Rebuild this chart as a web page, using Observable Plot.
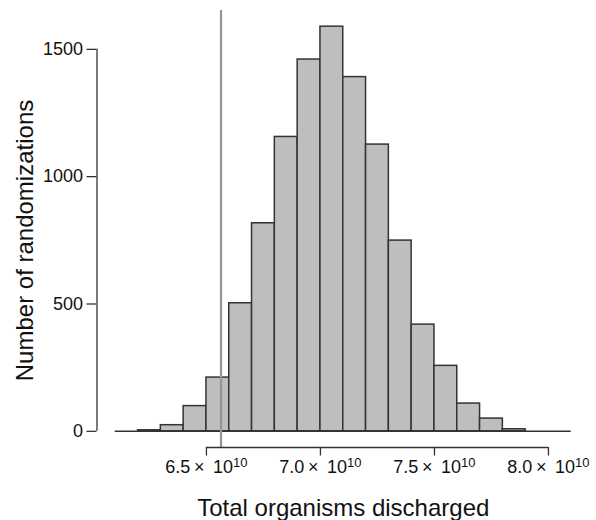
<!DOCTYPE html>
<html><head><meta charset="utf-8">
<script src="https://cdn.jsdelivr.net/npm/d3@7"></script>
<script src="https://cdn.jsdelivr.net/npm/@observablehq/plot@0.6"></script>
<style>
body{margin:0;background:#fff}
#chart svg{font-family:"Liberation Sans",Arial,Helvetica,sans-serif;overflow:visible}
</style>
</head><body><div id="chart"></div>
<script>
// Histogram breaks (in units of 10^10 organisms) and counts per bin
const breaks = [6.1, 6.2, 6.3, 6.4, 6.5, 6.6, 6.7, 6.8, 6.9, 7.0, 7.1, 7.2, 7.3, 7.4, 7.5, 7.6, 7.7, 7.8, 7.9, 8.0, 8.1];
const counts = [0, 4, 24, 99, 211, 503, 817, 1156, 1460, 1589, 1391, 1126, 749, 419, 257, 109, 50, 8, 0, 0];
const observedTotal = 6.564;           // observed value (× 10^10)
const xTicks = [6.5, 7.0, 7.5, 8.0];
const yTicks = [0, 500, 1000, 1500];
const xTitle = "Total organisms discharged";
const yTitle = "Number of randomizations";

const bins = counts.map((c, i) => ({x1: breaks[i], x2: breaks[i + 1], count: c}));

// R-style 4% expansion of ranges
const xr = [breaks[0], breaks[breaks.length - 1]];
const xPad = (xr[1] - xr[0]) * 0.04;
const xDomain = [xr[0] - xPad, xr[1] + xPad];
const yMax = d3.max(counts);
const yDomain = [-yMax * 0.04, yMax * 1.04];

const ink = "#333333";

const chart = Plot.plot({
  width: 596,
  height: 520,
  marginLeft: 96.5,
  marginRight: 7,
  marginTop: 10,
  marginBottom: 73,
  style: {fontFamily: "Liberation Sans, Arial, sans-serif", fontSize: "18px", color: "#111"},
  x: {domain: xDomain},
  y: {domain: yDomain},
  marks: [
    Plot.rect(bins, {x1: "x1", x2: "x2", y1: 0, y2: "count", fill: "#bebebe", stroke: ink, strokeWidth: 1.5, inset: 0}),
    Plot.ruleY([0], {x1: xr[0], x2: xr[1], stroke: ink, strokeWidth: 1.5}),
    Plot.ruleX([observedTotal], {y1: yDomain[0], y2: yDomain[1], stroke: "#959595", strokeWidth: 2.2}),
    // y axis line spanning tick range
    Plot.ruleX([xDomain[0]], {y1: yTicks[0], y2: yTicks[yTicks.length - 1], stroke: ink, strokeWidth: 1.3}),
    Plot.axisY({ticks: yTicks, tickSize: 10, tickPadding: 4, fontSize: 18, stroke: ink, strokeWidth: 1.3, label: null, tickFormat: d => String(d)}),
    // x axis line spanning tick range
    Plot.ruleY([yDomain[0]], {x1: xTicks[0], x2: xTicks[xTicks.length - 1], stroke: ink, strokeWidth: 1.3}),
    Plot.axisX({ticks: xTicks, tickSize: 8.5, tickPadding: 4, fontSize: 18, stroke: ink, strokeWidth: 1.3, label: null,
      tickFormat: d => d.toFixed(1) + "\u2009\u00D7\u2009 10"}),
    Plot.text([xTitle], {frameAnchor: "bottom", dy: 68, fontSize: 24, fill: "#111"}),
    Plot.text([yTitle], {frameAnchor: "left", textAnchor: "middle", rotate: -90, dx: -72, dy: 11.5, fontSize: 24, fill: "#111"})
  ]
});

// Add superscript exponents to x tick labels
chart.querySelectorAll("text").forEach(t => {
  if (/\u00D7\u2009 10$/.test(t.textContent)) {
    const sp = document.createElementNS("http://www.w3.org/2000/svg", "tspan");
    sp.setAttribute("dy", "-0.45em");
    sp.setAttribute("font-size", "13");
    sp.textContent = "10";
    t.appendChild(sp);
  }
});

document.getElementById("chart").appendChild(chart);
</script>
</body></html>
